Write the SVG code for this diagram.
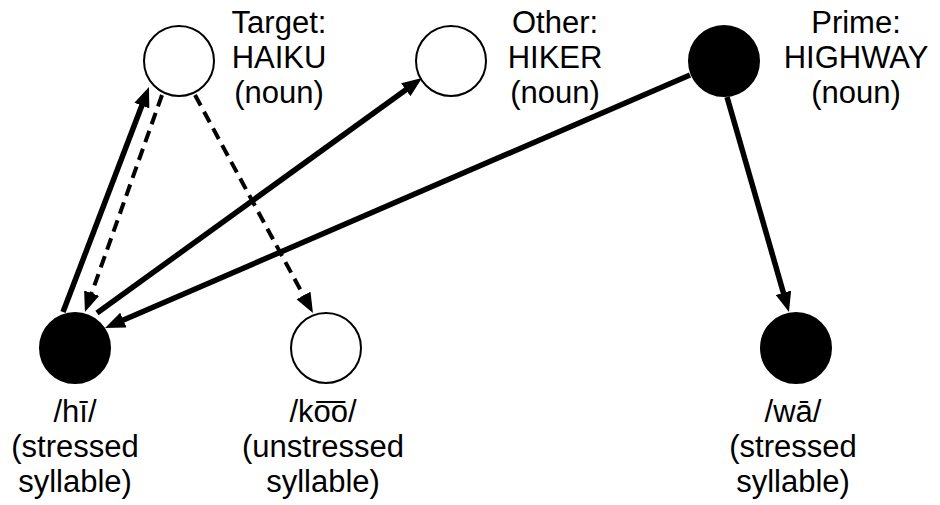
<svg xmlns="http://www.w3.org/2000/svg" width="940" height="505" viewBox="0 0 940 505">
<style>
text{font-family:"Liberation Sans",Arial,sans-serif;font-size:31px;fill:#000;text-anchor:middle}
.open{fill:#fff;stroke:#000;stroke-width:2}
.filled{fill:#000;stroke:#000;stroke-width:2}
.solid{fill:none;stroke:#000;stroke-width:5.5;marker-end:url(#ah)}
.dash{fill:none;stroke:#000;stroke-width:4;stroke-dasharray:12 7;marker-end:url(#ah)}
</style>
<defs>
<marker id="ah" markerUnits="userSpaceOnUse" markerWidth="20" markerHeight="16" refX="10" refY="8" orient="auto" viewBox="0 0 20 16">
<path d="M0,0 L20,8 L0,16 z" fill="#000"/>
</marker>
</defs>
<rect width="940" height="505" fill="#fff"/>
<g id="connectors">
<line class="solid" x1="63" y1="312" x2="145.4" y2="96.3"/>
<line class="dash" x1="162" y1="95" x2="88.3" y2="302.6"/>
<line class="dash" x1="195" y1="95" x2="308.2" y2="304.2"/>
<line class="solid" x1="97" y1="313" x2="413.9" y2="83.9"/>
<line class="solid" x1="690" y1="75" x2="114.2" y2="324"/>
<line class="solid" x1="727" y1="97" x2="786.2" y2="302.4"/>
</g>
<g id="target">
<circle class="open" cx="179" cy="61" r="35"/>
<text x="279" y="33">Target:</text>
<text x="279" y="68">HAIKU</text>
<text x="279" y="103">(noun)</text>
</g>
<g id="other">
<circle class="open" cx="451" cy="61" r="35"/>
<text x="555" y="33">Other:</text>
<text x="555" y="68">HIKER</text>
<text x="555" y="103">(noun)</text>
</g>
<g id="prime">
<circle class="filled" cx="724" cy="61" r="35"/>
<text x="856" y="33">Prime:</text>
<text x="856" y="68">HIGHWAY</text>
<text x="856" y="103">(noun)</text>
</g>
<g id="hi">
<circle class="filled" cx="75" cy="348" r="35"/>
<text x="75" y="422">/hī/</text>
<text x="75" y="457">(stressed</text>
<text x="75" y="492">syllable)</text>
</g>
<g id="koo">
<circle class="open" cx="326" cy="348" r="35"/>
<text x="323" y="422">/ko͞o/</text>
<text x="323" y="457">(unstressed</text>
<text x="323" y="492">syllable)</text>
</g>
<g id="wa">
<circle class="filled" cx="796" cy="348" r="35"/>
<text x="793" y="422">/wā/</text>
<text x="793" y="457">(stressed</text>
<text x="793" y="492">syllable)</text>
</g>
</svg>
